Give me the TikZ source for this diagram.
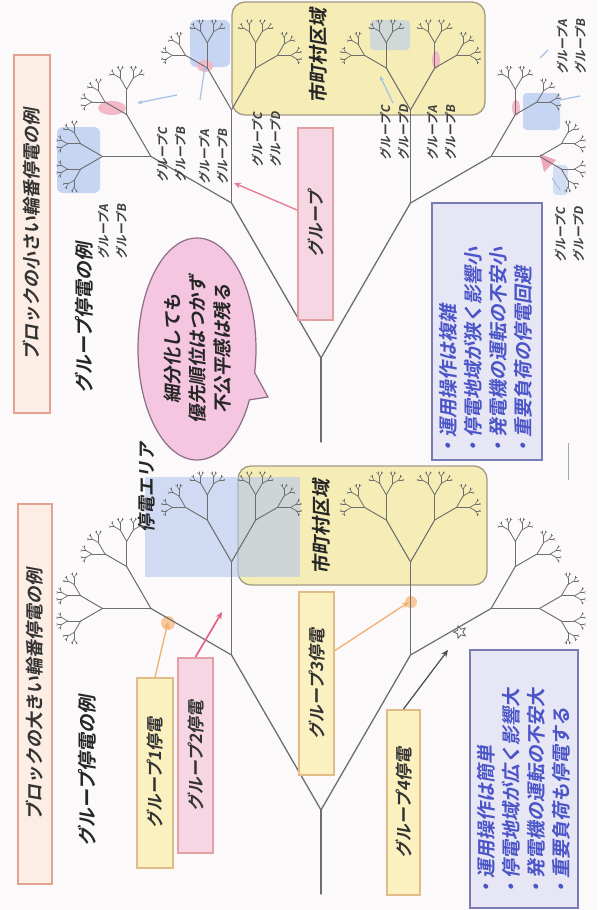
\documentclass[tikz,border=0pt]{standalone}
\usepackage{fontspec}
\newfontfamily\jp{Noto Sans CJK JP}[FakeSlant=0.18,BoldFont={Noto Sans CJK JP Bold},BoldFeatures={FakeSlant=0.18}]
\usetikzlibrary{arrows.meta,shapes.callouts,shapes.geometric,shapes.misc,calc}
\definecolor{bgc}{HTML}{FCF9FB}
\definecolor{treec}{HTML}{6E6E6E}
\definecolor{titlefill}{HTML}{FCEEE4}
\definecolor{titledraw}{HTML}{E3A393}
\definecolor{yfill}{HTML}{FBF0C0}
\definecolor{ydraw}{HTML}{E2BC86}
\definecolor{pfill}{HTML}{F6D6E2}
\definecolor{pdraw}{HTML}{E3A0A4}
\definecolor{cityfill}{HTML}{F5EDB5}
\definecolor{citydraw}{HTML}{A29A84}
\definecolor{bluefill}{HTML}{E6E6F4}
\definecolor{bluedraw}{HTML}{7A7AB4}
\definecolor{bluetext}{HTML}{4B55C8}
\definecolor{bubfill}{HTML}{F4C6DF}
\definecolor{bubdraw}{HTML}{8C6E8A}
\definecolor{areablue}{HTML}{B4C6EE}
\definecolor{hlblue}{HTML}{B8CCF0}
\definecolor{hlpink}{HTML}{F4B4C4}
\definecolor{orangec}{HTML}{F2B070}
\definecolor{redc}{HTML}{E06080}
\definecolor{leadc}{HTML}{A4C2E4}
\tikzset{
  treeline/.style={draw=treec,line cap=round,line join=round},
  rottext/.style={rotate=90,inner sep=0pt,text=black!85,font=\jp\bfseries\fontsize{18}{22}\selectfont},
  titlebox/.style={rotate=90,draw=titledraw,line width=2pt,fill=titlefill,inner sep=0pt,font=\jp\bfseries\fontsize{18}{22}\selectfont,text=black!80},
  ybox/.style={rotate=90,draw=ydraw,line width=2pt,fill=yfill,inner sep=0pt,font=\jp\bfseries\fontsize{17}{21}\selectfont,text=black!80},
  pbox/.style={rotate=90,draw=pdraw,line width=2pt,fill=pfill,inner sep=0pt,font=\jp\bfseries\fontsize{17}{21}\selectfont,text=black!80},
  citybox/.style={draw=citydraw,line width=1.3pt,fill=cityfill,rounded corners=13pt},
  bluebox/.style={draw=bluedraw,line width=1.3pt,fill=bluefill},
  bluetxt/.style={rotate=90,inner sep=0pt,align=left,text=bluetext,font=\jp\bfseries\fontsize{19}{25}\selectfont},
  grplbl/.style={rotate=90,inner sep=0pt,align=left,text=black!75,font=\jp\bfseries\fontsize{12}{18}\selectfont},
  arr/.style={-{Stealth[length=7pt,width=6pt]},line width=1.6pt},
  lead/.style={-{Stealth[length=5pt,width=4pt]},draw=leadc,line width=1.2pt},
}
\def\fbratio{0.52}
\newcommand\fbranch[5]{%
  \ifnum#5>0\relax
    \pgfmathsetmacro\fbx{#1+#4*cos(#3)}%
    \pgfmathsetmacro\fby{#2-#4*sin(#3)}%
    \pgfmathsetmacro\fbl{#4*\fbratio}%
    \pgfmathtruncatemacro\fbd{#5-1}%
    \pgfmathsetmacro\fba{#3+30}%
    \pgfmathsetmacro\fbb{#3-30}%
    \pgfmathsetmacro\fbw{0.35+0.12*#5}%
    \draw[treeline,line width=\fbw pt] (#1,#2) -- (\fbx,\fby);
    \edef\fbnext{\noexpand\fbranch{\fbx}{\fby}{\fba}{\fbl}{\fbd}\noexpand\fbranch{\fbx}{\fby}{\fbb}{\fbl}{\fbd}}%
    \fbnext
  \fi}
\begin{document}
\begin{tikzpicture}[x=1pt,y=-1pt]
\useasboundingbox (0,0) rectangle (597,910);
\fill[bgc] (0,0) rectangle (597,910);

% ---------- upper half ----------
\node[titlebox,minimum width=358pt,minimum height=36pt] (t1) at (32,234) {ブロックの小さい輪番停電の例};
\node[rottext,font=\jp\bfseries\fontsize{19}{22}\selectfont] (s1) at (84,318) {グループ停電の例};

\node[citybox,minimum width=253pt,minimum height=113pt] (city1) at (358.5,58.5) {};
\node[rottext,font=\jp\bfseries\fontsize{19}{22}\selectfont] (city1l) at (318,56) {市町村区域};

% highlights (upper)
\fill[hlblue,opacity=0.8,rounded corners=6pt] (57,127) rectangle (100,193);
\fill[hlblue,opacity=0.8,rounded corners=6pt] (190,20) rectangle (230,67);
\fill[hlblue,opacity=0.6,rounded corners=4pt] (370,20) rectangle (410,50);
\fill[hlblue,opacity=0.8,rounded corners=4pt] (523,93) rectangle (560,130);
\fill[hlblue,opacity=0.6,rounded corners=4pt] (553,165) rectangle (568,195);
\fill[hlpink,opacity=0.9] (112,108) ellipse (14pt and 7pt);
\fill[hlpink,opacity=0.9] (205,66) ellipse (8pt and 6pt);
\fill[hlpink,opacity=0.9] (436,60) ellipse (4pt and 9pt);
\fill[hlpink,opacity=0.9] (516,108) ellipse (4pt and 8pt);
\fill[redc!60,opacity=0.9] (540,154) -- (556,160) -- (544,172) -- cycle;

% upper tree
\draw[treeline,line width=1.3pt] (321,442) -- (321,358);
\fbranch{321}{358}{120}{179}{8}
\fbranch{321}{358}{60}{179}{8}

\node[pbox,minimum width=192pt,minimum height=35pt] (gp) at (315.5,224) {グループ};
\coordinate (ap) at (234,183);
\draw[arr,draw=redc!80,fill=redc!80,line width=1.4pt] ($(gp.north)+(0,-14)$) -- (ap);

% leader lines (upper)
\coordinate (lt1) at (137,103);
\coordinate (lt2) at (205,66);
\coordinate (lt3) at (380,76);
\draw[lead] (177,95) -- (lt1);
\draw[lead] (200,100) -- (lt2);
\draw[lead] (393,103) -- (lt3);
\draw[leadc,line width=1.2pt] (540,58) -- (548,50);
\draw[leadc,line width=1.2pt] (560,100) -- (580,96);
\draw[leadc,line width=1.2pt] (552,178) -- (560,190);

% group labels (upper)
\node[grplbl] (la) at (172,155) {グループC\\グループB};
\node[grplbl] (lb) at (214,157) {グループA\\グループB};
\node[grplbl] (lc) at (267,140) {グループC\\グループD};
\node[grplbl] (ld) at (113,232) {グループA\\グループB};
\node[grplbl] (le) at (395,133) {グループC\\グループD};
\node[grplbl] (lf) at (442,133) {グループA\\グループB};
\node[grplbl] (lg) at (572,47) {グループA\\グループB};
\node[grplbl] (lh) at (570,235) {グループC\\グループD};

% speech bubble
\node[ellipse callout,draw=bubdraw,line width=1.2pt,fill=bubfill,minimum width=118pt,minimum height=222pt,callout absolute pointer={(268,397)}] (bub) at (197,349) {};
\node[rottext,align=center,font=\jp\bfseries\fontsize{18.5}{25}\selectfont] (bubt) at (198,349) {細分化しても\\優先順位はつかず\\不公平感は残る};

% blue box (upper)
\node[bluebox,minimum width=110pt,minimum height=257pt] (bb1) at (487,331.5) {};
\node[bluetxt,anchor=north west] (bb1t) at (439,457) {・運用操作は複雑\\・停電地域が狭く影響小\\・発電機の運転の不安小\\・重要負荷の停電回避};

\draw[treec!60,line width=1pt] (568,443) -- (568,480);

% ---------- lower half ----------
\node[titlebox,minimum width=380pt,minimum height=34pt] (t2) at (35,694) {ブロックの大きい輪番停電の例};
\node[rottext,font=\jp\bfseries\fontsize{19}{22}\selectfont] (s2) at (87,771) {グループ停電の例};

\node[citybox,minimum width=249pt,minimum height=119pt] (city2) at (362.5,525.5) {};
\node[rottext,font=\jp\bfseries\fontsize{19}{22}\selectfont] (city2l) at (321,527) {市町村区域};
\fill[areablue,opacity=0.6] (145,477) rectangle (300,577);
\node[rottext,font=\jp\bfseries\fontsize{18}{22}\selectfont] (area) at (147,487) {停電エリア};

\fill[orangec!70] (168,623) circle (7pt);
\fill[orangec!70] (411,602) circle (6pt);

% lower tree
\draw[treeline,line width=1.3pt] (321,894) -- (321,810);
\fbranch{321}{810}{120}{179}{8}
\fbranch{321}{810}{60}{179}{8}

\node[draw=treec,line width=0.9pt,star,star points=5,star point ratio=2.2,minimum size=13pt,inner sep=0pt,rotate=90] (star) at (460,632) {};

\node[ybox,minimum width=190pt,minimum height=36pt] (g1) at (155,773) {グループ1停電};
\node[pbox,minimum width=195pt,minimum height=35pt] (g2) at (195.5,755.5) {グループ2停電};
\node[ybox,minimum width=183pt,minimum height=35pt] (g3) at (316.5,683.5) {グループ3停電};
\node[ybox,minimum width=185pt,minimum height=33pt] (g4) at (403.5,802.5) {グループ4停電};

\coordinate (a1) at (168,622);
\coordinate (a2) at (222,612);
\coordinate (a3) at (409,602);
\coordinate (a4) at (448,650);
\draw[arr,draw=orangec,fill=orangec,line width=1.3pt] (g1.east) -- (a1);
\draw[arr,draw=redc,fill=redc] (g2.east) -- (a2);
\draw[arr,draw=orangec,fill=orangec,line width=1.3pt] ($(g3.south)+(0,-33)$) -- (a3);
\draw[arr,draw=black!70,fill=black!70,line width=1.2pt] (g4.east) -- (a4);

% blue box (lower)
\node[bluebox,minimum width=108pt,minimum height=258pt] (bb2) at (524,779) {};
\node[bluetxt,anchor=north west] (bb2t) at (477,898) {・運用操作は簡単\\・停電地域が広く影響大\\・発電機の運転の不安大\\・重要負荷も停電する};
\end{tikzpicture}
\end{document}
